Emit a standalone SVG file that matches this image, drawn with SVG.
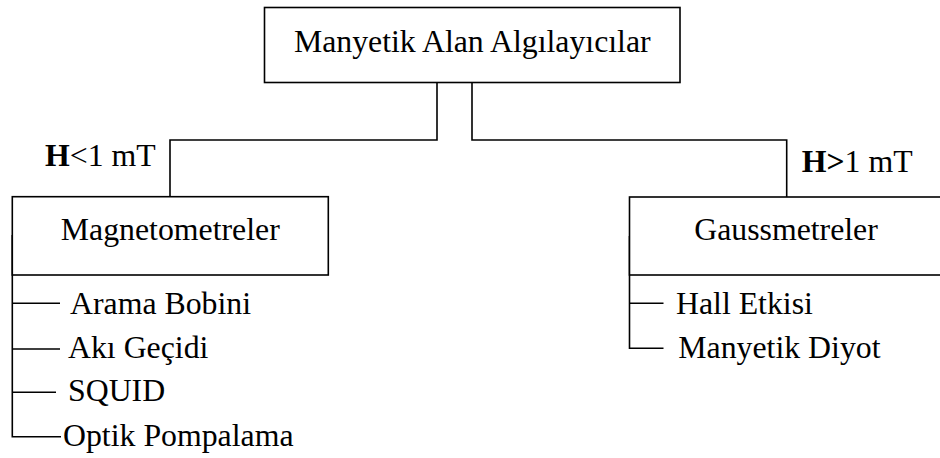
<svg xmlns="http://www.w3.org/2000/svg" width="940" height="458" viewBox="0 0 940 458" font-family="'Liberation Serif', 'Times New Roman', serif">
<style>
.box{fill:#fff;stroke:#000;stroke-width:1.6}
.ln{fill:none;stroke:#000;stroke-width:1.6}
text{font-family:'Liberation Serif','Times New Roman',serif;font-size:31.8px;fill:#000}
.c{text-anchor:middle}
.b{font-weight:bold}
</style>
<rect width="940" height="458" fill="#fff"/>
<g id="connectors">
<path class="ln" d="M437,82.5 V140 H170 V196.7"/>
<path class="ln" d="M472,82.5 V140 H786.7 V197"/>
<path class="ln" d="M12.3,235 V436.7 H61 M12.3,303.3 H60 M12.3,349 H60 M12.3,392.3 H56"/>
<path class="ln" d="M629.5,236 V348.3 H663.5 M629.5,303.3 H663.5"/>
</g>
<g id="root">
<rect class="box" x="264.5" y="7.5" width="415.5" height="75"/>
<text class="c" x="472.3" y="52">Manyetik Alan Algılayıcılar</text>
</g>
<g id="label-left">
<text x="45" y="166"><tspan class="b">H</tspan>&lt;1 mT</text>
</g>
<g id="label-right">
<text x="801.7" y="172"><tspan class="b">H&gt;</tspan>1 mT</text>
</g>
<g id="magnetometreler">
<rect class="box" x="12.3" y="196.7" width="316" height="78.3"/>
<text class="c" x="170.3" y="240">Magnetometreler</text>
</g>
<g id="gaussmetreler">
<rect class="box" x="629.5" y="197" width="313" height="78"/>
<text class="c" x="786" y="240">Gaussmetreler</text>
</g>
<g id="arama-bobini"><text x="70" y="314">Arama Bobini</text></g>
<g id="aki-gecidi"><text x="68" y="358">Akı Geçidi</text></g>
<g id="squid"><text x="68" y="401">SQUID</text></g>
<g id="optik-pompalama"><text x="63" y="445.5">Optik Pompalama</text></g>
<g id="hall-etkisi"><text x="676" y="314">Hall Etkisi</text></g>
<g id="manyetik-diyot"><text x="678.3" y="358">Manyetik Diyot</text></g>
</svg>
